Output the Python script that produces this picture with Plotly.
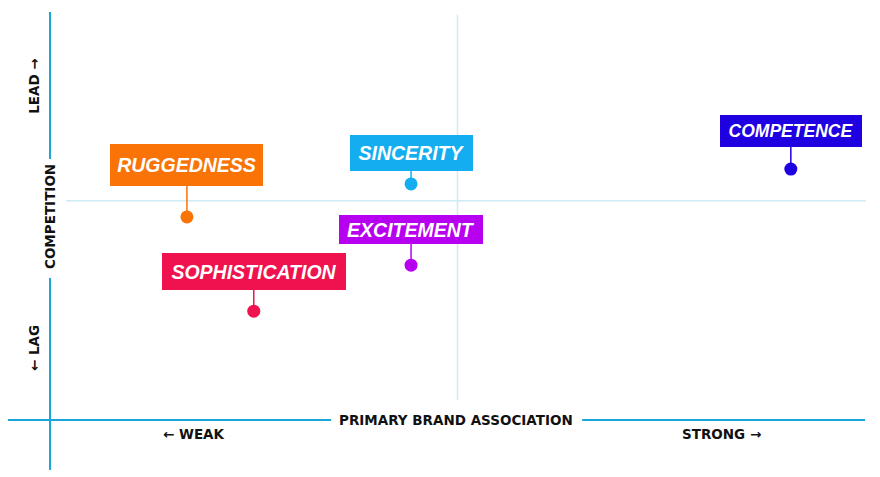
import plotly.graph_objects as go

# --- data ---
BRANDS = ["RUGGEDNESS", "SINCERITY", "EXCITEMENT", "SOPHISTICATION", "COMPETENCE"]
ASSOCIATION = [16.8, 44.3, 44.3, 25.0, 90.9]   # x: primary brand association
COMPETITION = [46.3, 53.8, 35.3, 24.8, 57.2]   # y: lead / lag vs competition
MID_X = 50
MID_Y = 50

# --- style ---
COLORS = ["#f97306", "#14aef0", "#b800f0", "#f0124e", "#1e00e0"]
BOX_W = [153, 123, 144, 184, 142]
BOX_H = [42, 36, 29, 37, 32]
FONT_SIZE = [19.5, 19.5, 19.5, 19.5, 17.5]
OFFSET_Y = [-52, -31, -36, -40, -38]
AXIS_BLUE = "#1ba6d9"
MID_BLUE = "#cdeaf6"
INK = "#111111"
LABEL_FONT = dict(family="DejaVu Sans", size=13.5, color=INK, weight="bold")

fig = go.Figure()

fig.add_trace(go.Scatter(
    x=ASSOCIATION, y=COMPETITION, mode="markers",
    marker=dict(color=COLORS, size=13, line=dict(width=0)),
    hoverinfo="text", text=BRANDS, showlegend=False,
))

shapes = []
# quadrant midlines
shapes.append(dict(type="line", xref="x", yref="paper", x0=MID_X, x1=MID_X, y0=0.049, y1=0.993,
                   line=dict(color=MID_BLUE, width=1.5), layer="below"))
shapes.append(dict(type="line", xref="paper", yref="y", x0=0.02, x1=1.001, y0=MID_Y, y1=MID_Y,
                   line=dict(color=MID_BLUE, width=1.5), layer="below"))
# main axes, broken around their titles
for y0, y1 in [(0.64, 1.0), (-0.1225, 0.348)]:
    shapes.append(dict(type="line", xref="paper", yref="paper", x0=0, x1=0, y0=y0, y1=y1,
                       line=dict(color=AXIS_BLUE, width=2)))
for x0, x1 in [(-0.0552, 0.345), (0.653, 1.0)]:
    shapes.append(dict(type="line", xref="paper", yref="paper", x0=x0, x1=x1, y0=0, y1=0,
                       line=dict(color=AXIS_BLUE, width=2)))

annotations = [
    dict(text="PRIMARY BRAND ASSOCIATION", x=0.498, y=0, xanchor="center", yanchor="middle"),
    dict(text="← WEAK", x=0.177, y=-0.034, xanchor="center", yanchor="middle"),
    dict(text="STRONG →", x=0.8245, y=-0.034, xanchor="center", yanchor="middle"),
    dict(text="LEAD →", x=-0.0196, y=0.819, xanchor="center", yanchor="middle", textangle=-90),
    dict(text="COMPETITION", x=0, y=0.4975, xanchor="center", yanchor="middle", textangle=-90),
    dict(text="← LAG", x=-0.0196, y=0.1765, xanchor="center", yanchor="middle", textangle=-90),
]
for a in annotations:
    a.update(xref="paper", yref="paper", showarrow=False, font=LABEL_FONT)

for i, name in enumerate(BRANDS):
    annotations.append(dict(
        x=ASSOCIATION[i], y=COMPETITION[i], xref="x", yref="y",
        text=name, showarrow=True, arrowhead=0, arrowwidth=1.5, arrowcolor=COLORS[i],
        ax=0, ay=OFFSET_Y[i], standoff=0,
        bgcolor=COLORS[i], bordercolor=COLORS[i], borderwidth=1, borderpad=0,
        width=BOX_W[i] - 2, height=BOX_H[i] - 2,
        font=dict(family="Liberation Sans", size=FONT_SIZE[i], color="white",
                  weight="bold", style="italic"),
    ))

# page body adds an 8px offset, so margins are trimmed on the left/top
fig.update_layout(
    width=880, height=477,
    margin=dict(l=42, r=23, t=4, b=65),
    paper_bgcolor="white", plot_bgcolor="white",
    xaxis=dict(range=[0, 100], visible=False, fixedrange=True),
    yaxis=dict(range=[0, 93], visible=False, fixedrange=True),
    shapes=shapes, annotations=annotations,
    showlegend=False,
)

fig.write_html("out.html")
